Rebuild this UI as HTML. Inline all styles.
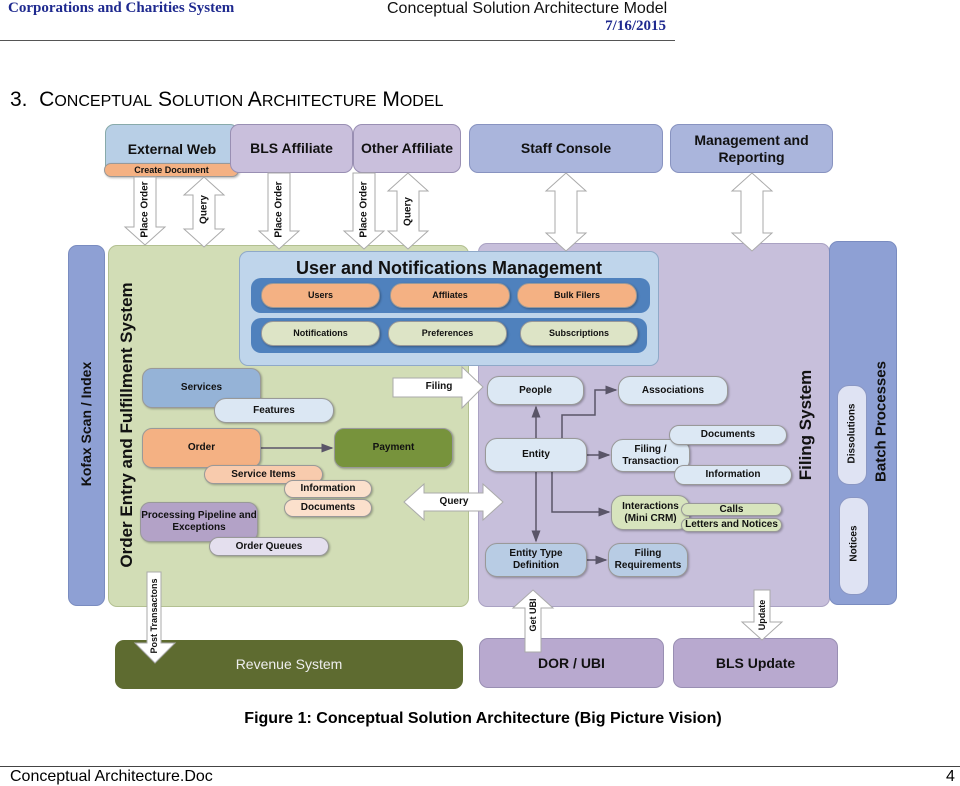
<!DOCTYPE html>
<html><head><meta charset="utf-8"><style>
body{margin:0;width:960px;height:786px;background:#fff;position:relative;overflow:hidden;font-family:"Liberation Sans",sans-serif;}
.a{position:absolute;box-sizing:border-box;display:flex;align-items:center;justify-content:center;text-align:center;color:#111;font-family:"Liberation Sans",sans-serif;font-weight:bold;line-height:1.2;}
.r{border-radius:9px;}
.p{border-radius:12px;border:1px solid #999;box-shadow:1px 1px 2px rgba(0,0,0,.3);}
.v{position:absolute;transform:rotate(-90deg);transform-origin:center;white-space:nowrap;text-align:center;font-family:"Liberation Sans",sans-serif;font-weight:bold;color:#111;}
</style></head><body>
<div style="position:absolute;left:8px;top:0;font:bold 15px 'Liberation Serif',serif;color:#1f2a8f">Corporations and Charities System</div>
<div style="position:absolute;left:387px;top:0;font:16px 'Liberation Sans',sans-serif;color:#111">Conceptual Solution Architecture Model</div>
<div style="position:absolute;left:566px;width:100px;text-align:right;top:18px;font:bold 15px 'Liberation Serif',serif;color:#1f2a8f">7/16/2015</div>
<div style="position:absolute;left:0;top:40px;width:675px;height:1px;background:#555"></div>
<div style="position:absolute;left:10px;top:88px;font:21px 'Liberation Sans',sans-serif;color:#000">3.&nbsp; C<span style="font-size:16px">ONCEPTUAL</span> S<span style="font-size:16px">OLUTION</span> A<span style="font-size:16px">RCHITECTURE</span> M<span style="font-size:16px">ODEL</span></div>

<!-- big containers -->
<div class="a r" style="left:68px;top:245px;width:37px;height:361px;background:#8ea0d4;border:1px solid #7a8cc0"></div>
<div class="v" style="left:-4px;top:416px;width:180px;font-size:14px;">Kofax Scan / Index</div>
<div class="a r" style="left:108px;top:245px;width:361px;height:362px;background:#d2ddb6;border:1px solid #b3c091"></div>
<div class="v" style="left:-33px;top:415px;width:320px;font-size:17px;">Order Entry and Fulfillment System</div>
<div class="a r" style="left:478px;top:243px;width:352px;height:364px;background:#c7bfdb;border:1px solid #aaa2c3"></div>
<div class="a r" style="left:829px;top:241px;width:68px;height:364px;background:#8ea0d4;border:1px solid #7a8cc0"></div>
<div class="v" style="left:731px;top:415px;width:150px;font-size:17px;">Filing System</div>
<div class="v" style="left:816px;top:413px;width:130px;font-size:15px;">Batch Processes</div>
<div class="a" style="left:837px;top:385px;width:30px;height:100px;border-radius:12px;background:#dfe3f3;border:1px solid #8a97c4"></div>
<div class="v" style="left:812px;top:428px;width:80px;font-size:10px;">Dissolutions</div>
<div class="a" style="left:839px;top:497px;width:30px;height:98px;border-radius:12px;background:#dfe3f3;border:1px solid #8a97c4"></div>
<div class="v" style="left:814px;top:538px;width:80px;font-size:10px;">Notices</div>

<!-- top boxes -->
<div class="a r" style="left:105px;top:124px;width:134px;height:52px;background:#b8cfe6;border:1px solid #8aa;align-items:flex-start;padding-top:16px;font-size:14px">External Web</div>
<div class="a p" style="left:104px;top:163px;width:135px;height:14px;background:#f4b183;font-size:9px;border-radius:7px">Create Document</div>
<div class="a r" style="left:230px;top:124px;width:123px;height:49px;background:#c9bfdc;border:1px solid #998fb3;font-size:14px">BLS Affiliate</div>
<div class="a r" style="left:353px;top:124px;width:108px;height:49px;background:#c9bfdc;border:1px solid #998fb3;font-size:14px">Other Affiliate</div>
<div class="a r" style="left:469px;top:124px;width:194px;height:49px;background:#aab5dc;border:1px solid #8893c0;font-size:14px">Staff Console</div>
<div class="a r" style="left:670px;top:124px;width:163px;height:49px;background:#aab5dc;border:1px solid #8893c0;font-size:14px">Management and<br>Reporting</div>

<!-- user mgmt -->
<div class="a r" style="left:239px;top:251px;width:420px;height:115px;background:#bfd5eb;border:1px solid #8fa9c8;align-items:flex-start;padding-top:6px;font-size:18px">User and Notifications Management</div>
<div class="a" style="left:251px;top:278px;width:399px;height:35px;background:#4f81bd;border-radius:10px"></div>
<div class="a" style="left:251px;top:318px;width:396px;height:35px;background:#4f81bd;border-radius:10px"></div>
<div class="a p" style="left:261px;top:283px;width:119px;height:25px;background:#f4b183;font-size:9px">Users</div>
<div class="a p" style="left:390px;top:283px;width:120px;height:25px;background:#f4b183;font-size:9px">Affliates</div>
<div class="a p" style="left:517px;top:283px;width:120px;height:25px;background:#f4b183;font-size:9px">Bulk Filers</div>
<div class="a p" style="left:261px;top:321px;width:119px;height:25px;background:#dde4c6;font-size:9px">Notifications</div>
<div class="a p" style="left:388px;top:321px;width:119px;height:25px;background:#dde4c6;font-size:9px">Preferences</div>
<div class="a p" style="left:520px;top:321px;width:118px;height:25px;background:#dde4c6;font-size:9px">Subscriptions</div>

<!-- bottom -->
<div class="a r" style="left:115px;top:640px;width:348px;height:49px;background:#5e6b30;color:#eee;font-size:14px;font-weight:normal">Revenue System</div>
<div class="a r" style="left:479px;top:638px;width:185px;height:50px;background:#b8a9cf;border:1px solid #998fb3;font-size:14px">DOR / UBI</div>
<div class="a r" style="left:673px;top:638px;width:165px;height:50px;background:#b8a9cf;border:1px solid #998fb3;font-size:14px">BLS Update</div>

<svg style="position:absolute;left:0;top:0" width="960" height="786">
<defs><marker id="m" markerWidth="8" markerHeight="8" refX="7" refY="4" orient="auto"><path d="M0,1 L8,4 L0,7z" fill="#5a5568"/></marker></defs>
<g fill="#fff" stroke="#aaa" stroke-width="1">
<polygon points="134,177 156,177 156,227 165,227 145,245 125,227 134,227"/>
<polygon points="204,177 224,195 215,195 215,229 224,229 204,247 184,229 193,229 193,195 184,195"/>
<polygon points="268,173 290,173 290,231 299,231 279,249 259,231 268,231"/>
<polygon points="353,173 375,173 375,231 384,231 364,249 344,231 353,231"/>
<polygon points="408,173 428,191 419,191 419,231 428,231 408,249 388,231 397,231 397,191 388,191"/>
<polygon points="566,173 586,191 577,191 577,233 586,233 566,251 546,233 555,233 555,191 546,191"/>
<polygon points="752,173 772,191 763,191 763,233 772,233 752,251 732,233 741,233 741,191 732,191"/>
<polygon points="147,572 161,572 161,643 175,643 155,663 135,643 147,643"/>
<polygon points="533,590 553,608 541,608 541,652 525,652 525,608 513,608"/>
<polygon points="754,590 770,590 770,622 782,622 762,640 742,622 754,622"/>
<polygon points="393,378 462,378 462,367 483,387 462,408 462,397 393,397"/>
<polygon points="404,502 424,484 424,493 483,493 483,484 503,502 483,520 483,511 424,511 424,520"/>
</g>
<g stroke="#5a5568" stroke-width="1.5" fill="none" marker-end="url(#m)">
<path d="M261,448 L332,448"/>
<path d="M536,438 L536,407"/>
<path d="M536,472 L536,541"/>
<path d="M587,455 L609,455"/>
<path d="M562,438 L562,415 L595,415 L595,390 L616,390"/>
<path d="M552,472 L552,512 L609,512"/>
<path d="M587,560 L606,560"/>
</g>
</svg>
<div class="v" style="left:115px;top:204px;width:60px;font-size:10px">Place Order</div>
<div class="v" style="left:174px;top:204px;width:60px;font-size:10px">Query</div>
<div class="v" style="left:249px;top:204px;width:60px;font-size:10px">Place Order</div>
<div class="v" style="left:334px;top:204px;width:60px;font-size:10px">Place Order</div>
<div class="v" style="left:378px;top:206px;width:60px;font-size:10px">Query</div>
<div class="v" style="left:114px;top:611px;width:80px;font-size:9px">Post Transactons</div>
<div class="v" style="left:503px;top:610px;width:60px;font-size:9px">Get UBI</div>
<div class="v" style="left:732px;top:610px;width:60px;font-size:9px">Update</div>
<div class="a" style="left:400px;top:381px;width:78px;font-size:10px">Filing</div>
<div class="a" style="left:420px;top:496px;width:68px;font-size:10px">Query</div>

<!-- order entry contents -->
<div class="a p" style="left:142px;top:368px;width:119px;height:40px;background:#95b3d7;font-size:10px;border-radius:10px">Services</div>
<div class="a p" style="left:214px;top:398px;width:120px;height:25px;background:#dbe7f3;font-size:10px">Features</div>
<div class="a p" style="left:142px;top:428px;width:119px;height:40px;background:#f4b183;font-size:10px;border-radius:10px">Order</div>
<div class="a p" style="left:334px;top:428px;width:119px;height:40px;background:#77933c;font-size:10px;border-radius:10px">Payment</div>
<div class="a p" style="left:204px;top:465px;width:119px;height:19px;background:#f8cbad;font-size:10px">Service Items</div>
<div class="a p" style="left:284px;top:480px;width:88px;height:18px;background:#fbe0cc;font-size:10px">Information</div>
<div class="a p" style="left:284px;top:499px;width:88px;height:18px;background:#fbe0cc;font-size:10px">Documents</div>
<div class="a p" style="left:140px;top:502px;width:118px;height:40px;background:#b3a2c7;font-size:10px;border-radius:10px">Processing Pipeline and<br>Exceptions</div>
<div class="a p" style="left:209px;top:537px;width:120px;height:19px;background:#e4dfee;font-size:10px">Order Queues</div>

<!-- filing contents -->
<div class="a p" style="left:487px;top:376px;width:97px;height:29px;background:#dce8f4;font-size:10px">People</div>
<div class="a p" style="left:618px;top:376px;width:110px;height:29px;background:#dce8f4;font-size:10px">Associations</div>
<div class="a p" style="left:485px;top:438px;width:102px;height:34px;background:#dce8f4;font-size:10px">Entity</div>
<div class="a p" style="left:611px;top:439px;width:79px;height:33px;background:#dce8f4;font-size:10px">Filing /<br>Transaction</div>
<div class="a p" style="left:669px;top:425px;width:118px;height:20px;background:#dce8f4;font-size:10px">Documents</div>
<div class="a p" style="left:674px;top:465px;width:118px;height:20px;background:#dce8f4;font-size:10px">Information</div>
<div class="a p" style="left:611px;top:495px;width:79px;height:35px;background:#d7e4bd;font-size:10px">Interactions<br>(Mini CRM)</div>
<div class="a p" style="left:681px;top:503px;width:101px;height:13px;background:#d7e4bd;font-size:10px">Calls</div>
<div class="a p" style="left:681px;top:518px;width:101px;height:14px;background:#d7e4bd;font-size:10px">Letters and Notices</div>
<div class="a p" style="left:485px;top:543px;width:102px;height:34px;background:#b8cce4;font-size:10px">Entity Type<br>Definition</div>
<div class="a p" style="left:608px;top:543px;width:80px;height:34px;background:#b8cce4;font-size:10px">Filing<br>Requirements</div>

<div style="position:absolute;left:0;width:966px;top:710px;text-align:center;font:bold 16px 'Liberation Sans',sans-serif">Figure 1: Conceptual Solution Architecture (Big Picture Vision)</div>
<div style="position:absolute;left:0;top:766px;width:960px;height:1px;background:#444"></div>
<div style="position:absolute;left:10px;top:768px;font:16px 'Liberation Sans',sans-serif">Conceptual Architecture.Doc</div>
<div style="position:absolute;left:946px;top:768px;font:16px 'Liberation Sans',sans-serif">4</div>
</body></html>
